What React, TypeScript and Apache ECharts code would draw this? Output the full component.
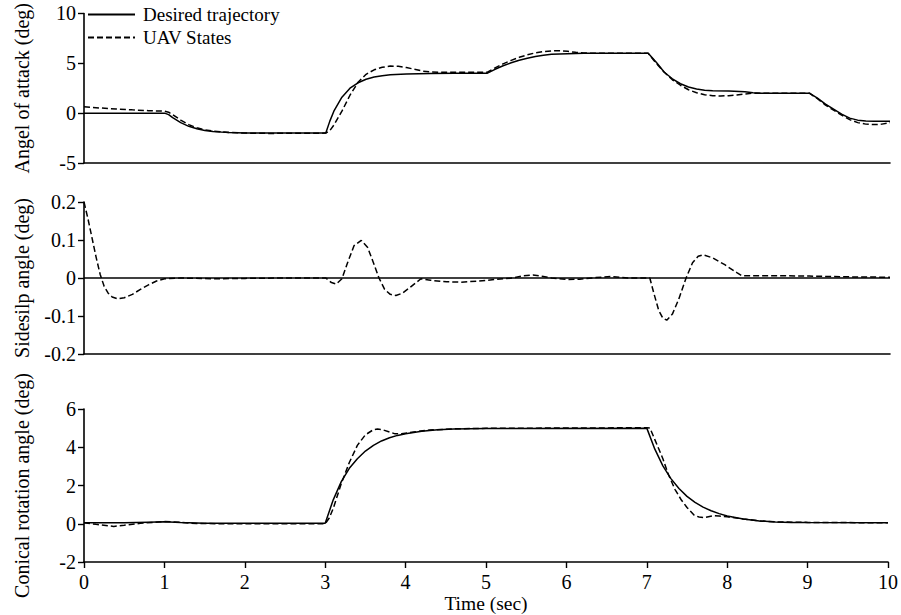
import React, { useEffect, useRef } from "react";
import * as echarts from "echarts";

const seriesNames = ["Desired trajectory", "UAV States"];
const yAxisNames = ["Angel of attack (deg)", "Sidesilp angle (deg)", "Conical rotation angle (deg)"];
const xAxisName = "Time (sec)";
const timeRange = [0, 10];
const yRanges = [
  [-5, 10, 5],
  [-0.2, 0.2, 0.1],
  [-2, 6, 2],
];

// Panel 1: angle of attack [time, deg]
const alphaDesired = [
  [0, 0], [1, 0], [1.05, -0.15], [1.1, -0.45], [1.2, -0.95], [1.3, -1.32], [1.4, -1.57], [1.5, -1.73],
  [1.6, -1.83], [1.7, -1.9], [1.8, -1.94], [2.0, -1.98], [2.3, -2.0], [3, -2.0], [3.05, -0.8], [3.1, 0.2],
  [3.2, 1.6], [3.3, 2.5], [3.4, 3.05], [3.5, 3.4], [3.6, 3.62], [3.7, 3.76], [3.8, 3.85], [4.0, 3.93],
  [4.3, 3.98], [4.6, 4.0], [5, 4.0], [5.1, 4.4], [5.2, 4.75], [5.3, 5.05], [5.4, 5.3], [5.5, 5.5],
  [5.6, 5.68], [5.7, 5.8], [5.8, 5.9], [6.0, 5.97], [6.2, 6.0], [7, 6.0], [7.1, 5.1], [7.2, 4.1],
  [7.3, 3.45], [7.4, 2.95], [7.5, 2.62], [7.6, 2.42], [7.7, 2.3], [7.8, 2.25], [8.0, 2.22], [8.2, 2.15],
  [8.3, 2.05], [8.4, 2.0], [9, 2.0], [9.1, 1.5], [9.2, 0.9], [9.3, 0.4], [9.4, -0.1], [9.5, -0.5],
  [9.6, -0.7], [9.7, -0.78], [9.8, -0.8], [10, -0.8],
];
const alphaUAV = [
  [0, 0.65], [0.2, 0.52], [0.4, 0.42], [0.6, 0.33], [0.8, 0.25], [1.0, 0.2], [1.05, 0.1], [1.1, -0.15],
  [1.2, -0.7], [1.3, -1.15], [1.4, -1.47], [1.5, -1.67], [1.6, -1.8], [1.7, -1.88], [1.8, -1.94],
  [2.0, -2.0], [2.3, -2.03], [2.7, -2.02], [3.0, -2.0], [3.05, -1.75], [3.1, -1.2], [3.2, 0.2],
  [3.3, 1.8], [3.4, 3.1], [3.5, 3.9], [3.6, 4.35], [3.7, 4.6], [3.8, 4.72], [3.9, 4.7], [4.0, 4.58],
  [4.1, 4.4], [4.2, 4.22], [4.3, 4.13], [4.5, 4.1], [5.0, 4.1], [5.1, 4.55], [5.2, 4.95], [5.3, 5.3],
  [5.4, 5.6], [5.5, 5.85], [5.6, 6.05], [5.7, 6.18], [5.8, 6.25], [5.9, 6.26], [6.0, 6.2], [6.1, 6.1],
  [6.2, 6.03], [6.4, 6.0], [7.0, 6.0], [7.1, 5.0], [7.2, 4.1], [7.3, 3.35], [7.4, 2.8], [7.5, 2.35],
  [7.6, 2.05], [7.7, 1.85], [7.8, 1.75], [7.9, 1.72], [8.0, 1.75], [8.1, 1.82], [8.2, 1.92], [8.3, 2.0],
  [9.0, 2.0], [9.1, 1.45], [9.2, 0.8], [9.3, 0.3], [9.4, -0.2], [9.5, -0.65], [9.6, -0.95], [9.7, -1.1],
  [9.8, -1.15], [9.9, -1.1], [10, -0.95],
];

// Panel 2: sideslip angle
const betaDesired = [[0, 0], [10, 0]];
const betaUAV = [
  [0, 0.2], [0.05, 0.155], [0.1, 0.105], [0.15, 0.055], [0.2, 0.01], [0.25, -0.022], [0.3, -0.04],
  [0.35, -0.05], [0.42, -0.055], [0.5, -0.052], [0.6, -0.043], [0.7, -0.03], [0.8, -0.018], [0.9, -0.008],
  [1.0, -0.002], [1.2, 0.0], [1.6, -0.002], [2.0, -0.001], [2.5, 0.0], [3.0, 0.0], [3.07, -0.012],
  [3.13, -0.016], [3.2, -0.002], [3.27, 0.04], [3.35, 0.085], [3.44, 0.099], [3.52, 0.08], [3.6, 0.035],
  [3.66, 0.0], [3.73, -0.03], [3.8, -0.043], [3.87, -0.046], [3.95, -0.04], [4.05, -0.024], [4.18, -0.002],
  [4.3, -0.006], [4.5, -0.01], [4.68, -0.011], [4.9, -0.008], [5.1, -0.004], [5.32, 0.0], [5.45, 0.006],
  [5.57, 0.008], [5.7, 0.004], [5.8, 0.0], [6.0, -0.004], [6.15, -0.003], [6.35, 0.001], [6.54, 0.004],
  [6.75, 0.0], [7.02, 0.0], [7.07, -0.04], [7.13, -0.085], [7.18, -0.105], [7.23, -0.111], [7.3, -0.095],
  [7.38, -0.055], [7.47, 0.0], [7.55, 0.04], [7.62, 0.057], [7.68, 0.061], [7.8, 0.053], [7.95, 0.035],
  [8.1, 0.014], [8.16, 0.006], [8.6, 0.006], [9.0, 0.005], [9.5, 0.003], [10, 0.002],
];

// Panel 3: conical rotation angle
const coneDesired = [
  [0, 0.05], [0.5, 0.05], [0.8, 0.08], [1.0, 0.1], [1.2, 0.07], [1.5, 0.03], [3.0, 0.03], [3.1, 1.25],
  [3.2, 2.2], [3.3, 2.9], [3.4, 3.4], [3.5, 3.8], [3.6, 4.1], [3.7, 4.33], [3.8, 4.5], [3.9, 4.62],
  [4.0, 4.71], [4.2, 4.84], [4.4, 4.91], [4.6, 4.95], [5.0, 4.98], [7.0, 5.0], [7.1, 3.9], [7.2, 3.03],
  [7.3, 2.36], [7.4, 1.84], [7.5, 1.43], [7.6, 1.12], [7.7, 0.87], [7.8, 0.68], [7.9, 0.53], [8.0, 0.41],
  [8.2, 0.25], [8.4, 0.15], [8.6, 0.09], [8.8, 0.07], [9.0, 0.06], [10, 0.05],
];
const coneUAV = [
  [0, 0.05], [0.15, -0.03], [0.37, -0.14], [0.5, -0.08], [0.7, 0.02], [1.0, 0.12], [1.2, 0.08],
  [1.4, 0.01], [2.0, 0.0], [3.0, 0.0], [3.05, 0.3], [3.1, 0.8], [3.2, 2.1], [3.3, 3.2], [3.4, 4.1],
  [3.5, 4.65], [3.6, 4.92], [3.65, 4.95], [3.7, 4.93], [3.8, 4.8], [3.87, 4.7], [3.95, 4.7], [4.1, 4.8],
  [4.3, 4.9], [4.6, 4.96], [5.0, 4.99], [7.0, 5.02], [7.04, 5.0], [7.1, 4.4], [7.2, 3.4], [7.27, 2.56],
  [7.35, 1.8], [7.43, 1.24], [7.5, 0.85], [7.59, 0.44], [7.65, 0.35], [7.71, 0.32], [7.78, 0.38],
  [7.83, 0.42], [7.9, 0.4], [8.0, 0.36], [8.2, 0.25], [8.4, 0.15], [8.6, 0.1], [9.0, 0.07], [10, 0.05],
];

const panelData = [
  [alphaDesired, alphaUAV],
  [betaDesired, betaUAV],
  [coneDesired, coneUAV],
];

const FONT = "'Liberation Serif', 'Times New Roman', serif";
const BLACK = "#000";

export default function App() {
  const ref = useRef<HTMLDivElement>(null);

  useEffect(() => {
    if (!ref.current) return;
    const chart = echarts.init(ref.current, undefined, { renderer: "svg" });
    const grids = [
      { left: 84, top: 13, width: 806, height: 150 },
      { left: 84, top: 202, width: 806, height: 152 },
      { left: 84, top: 409, width: 806, height: 153 },
    ];
    const xAxis = grids.map((_, i) => ({
      type: "value",
      gridIndex: i,
      min: timeRange[0],
      max: timeRange[1],
      interval: 1,
      axisLine: { show: true, onZero: false, lineStyle: { color: BLACK, width: 1.6 } },
      axisTick: { show: i === 2, length: 6, lineStyle: { color: BLACK, width: 1.4 } },
      axisLabel: { show: i === 2, fontSize: 20, color: BLACK, fontFamily: FONT, margin: 10 },
      splitLine: { show: false },
      name: i === 2 ? xAxisName : "",
      nameLocation: "middle",
      nameGap: 31,
      nameTextStyle: { fontSize: 19.5, color: BLACK, fontFamily: FONT },
    }));
    const yAxis = grids.map((_, i) => ({
      type: "value",
      gridIndex: i,
      min: yRanges[i][0],
      max: yRanges[i][1],
      interval: yRanges[i][2],
      axisLine: { show: true, onZero: false, lineStyle: { color: BLACK, width: 1.6 } },
      axisTick: { show: true, length: 6, lineStyle: { color: BLACK, width: 1.4 } },
      axisLabel: { fontSize: 20, color: BLACK, fontFamily: FONT, margin: 8 },
      splitLine: { show: false },
      name: yAxisNames[i],
      nameLocation: "middle",
      nameGap: 52,
      nameRotate: 90,
      nameTextStyle: { fontSize: 20, color: BLACK, fontFamily: FONT },
    }));
    const series: any[] = [];
    panelData.forEach((pair, i) => {
      pair.forEach((data, k) => {
        series.push({
          type: "line",
          name: seriesNames[k],
          xAxisIndex: i,
          yAxisIndex: i,
          data,
          symbol: "none",
          showSymbol: false,
          lineStyle: { color: BLACK, width: 1.5, type: k === 0 ? "solid" : [6, 3] },
          itemStyle: { color: BLACK },
          z: 2 + k,
        });
      });
    });
    chart.setOption({
      animation: false,
      backgroundColor: "#fff",
      textStyle: { fontFamily: FONT },
      grid: grids,
      xAxis,
      yAxis,
      legend: {
        data: seriesNames,
        orient: "vertical",
        left: 82,
        top: 0,
        itemWidth: 47,
        itemHeight: 14,
        itemGap: 4,
        selectedMode: false,
        itemStyle: { color: "rgba(0,0,0,0)", borderWidth: 0, opacity: 0 },
        textStyle: { fontSize: 19, color: BLACK, fontFamily: FONT, lineHeight: 19, padding: [0, 0, 0, 3] },
      },
      series,
    });
    return () => chart.dispose();
  }, []);

  return (
    <div
      ref={ref}
      style={{ position: "fixed", left: 0, top: 0, width: 901, height: 615, background: "#fff" }}
    />
  );
}
